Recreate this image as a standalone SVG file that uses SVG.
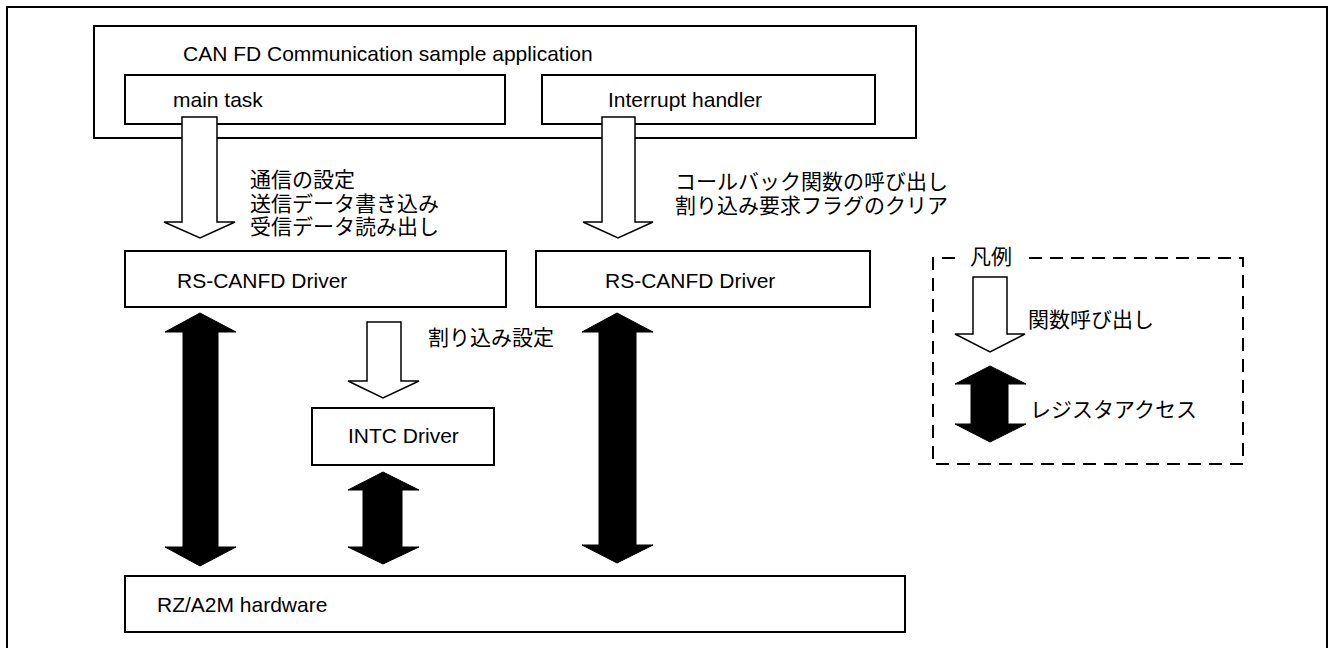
<svg xmlns="http://www.w3.org/2000/svg" width="1328" height="648" viewBox="0 0 1328 648">
<style>
.box{fill:#fff;stroke:#000;stroke-width:2}
.t{font-family:"Liberation Sans",Arial,sans-serif;font-size:21px;fill:#000}
.j{font-family:"Liberation Sans","Noto Sans CJK JP",sans-serif;font-size:21px;fill:#000}
.hol{fill:#fff;stroke:#000;stroke-width:1.5;stroke-linejoin:miter}
.blk{fill:#000;stroke:#000;stroke-width:1}
.leg{fill:none;stroke:#000;stroke-width:2;stroke-dasharray:13 8}
</style>
<rect width="1328" height="648" fill="#fff"/>
<path d="M7,650 V7 H1327 V650" fill="none" stroke="#000" stroke-width="2"/>

<g id="app">
<rect class="box" x="94" y="26" width="822" height="112"/>
<text class="t" x="183" y="61">CAN FD Communication sample application</text>
</g>
<g id="main-task">
<rect class="box" x="125" y="75" width="380" height="49"/>
<text class="t" x="173" y="107">main task</text>
</g>
<g id="interrupt-handler">
<rect class="box" x="542" y="75" width="333" height="49"/>
<text class="t" x="608" y="107">Interrupt handler</text>
</g>
<g id="rscanfd-1">
<rect class="box" x="125" y="251" width="381" height="56"/>
<text class="t" x="177" y="288">RS-CANFD Driver</text>
</g>
<g id="rscanfd-2">
<rect class="box" x="536" y="251" width="334" height="56"/>
<text class="t" x="605" y="288">RS-CANFD Driver</text>
</g>
<g id="intc">
<rect class="box" x="312" y="408" width="182" height="57"/>
<text class="t" x="348" y="443">INTC Driver</text>
</g>
<g id="hardware">
<rect class="box" x="125" y="576" width="780" height="56"/>
<text class="t" x="157" y="612">RZ/A2M hardware</text>
</g>

<g id="connectors">
<polygon class="hol" points="182,117 217,117 217,222 235,222 200,238 164,222 182,222"/>
<text class="j" x="250" y="187">通信の設定</text>
<text class="j" x="250" y="211">送信データ書き込み</text>
<text class="j" x="250" y="234">受信データ読み出し</text>

<polygon class="hol" points="602,117 635,117 635,222 653,222 618,238 583,222 602,222"/>
<text class="j" x="675" y="189">コールバック関数の呼び出し</text>
<text class="j" x="675" y="213">割り込み要求フラグのクリア</text>

<polygon class="hol" points="367,322 401,322 401,381 419,381 383,398 348,381 367,381"/>
<text class="j" x="428" y="345">割り込み設定</text>

<polygon class="blk" points="200,313 236,332 218,332 218,547 236,547 200,566 165,547 183,547 183,332 165,332"/>
<polygon class="blk" points="383,472 419,490 402,490 402,547 419,547 383,564 348,547 363,547 363,490 348,490"/>
<polygon class="blk" points="617,313 653,332 636,332 636,545 653,545 617,563 582,545 599,545 599,332 582,332"/>
</g>

<g id="legend">
<path class="leg" d="M955,258 H933 V464 H1243 V258 H1024"/>
<text class="j" x="970" y="264">凡例</text>
<polygon class="hol" points="973,277 1007,277 1007,334 1025,334 990,352 955,334 973,334"/>
<text class="j" x="1028" y="327">関数呼び出し</text>
<polygon class="blk" points="990,366 1026,384 1008,384 1008,424 1026,424 990,442 955,424 971,424 971,384 955,384"/>
<text class="j" x="1030" y="417">レジスタアクセス</text>
</g>
</svg>
